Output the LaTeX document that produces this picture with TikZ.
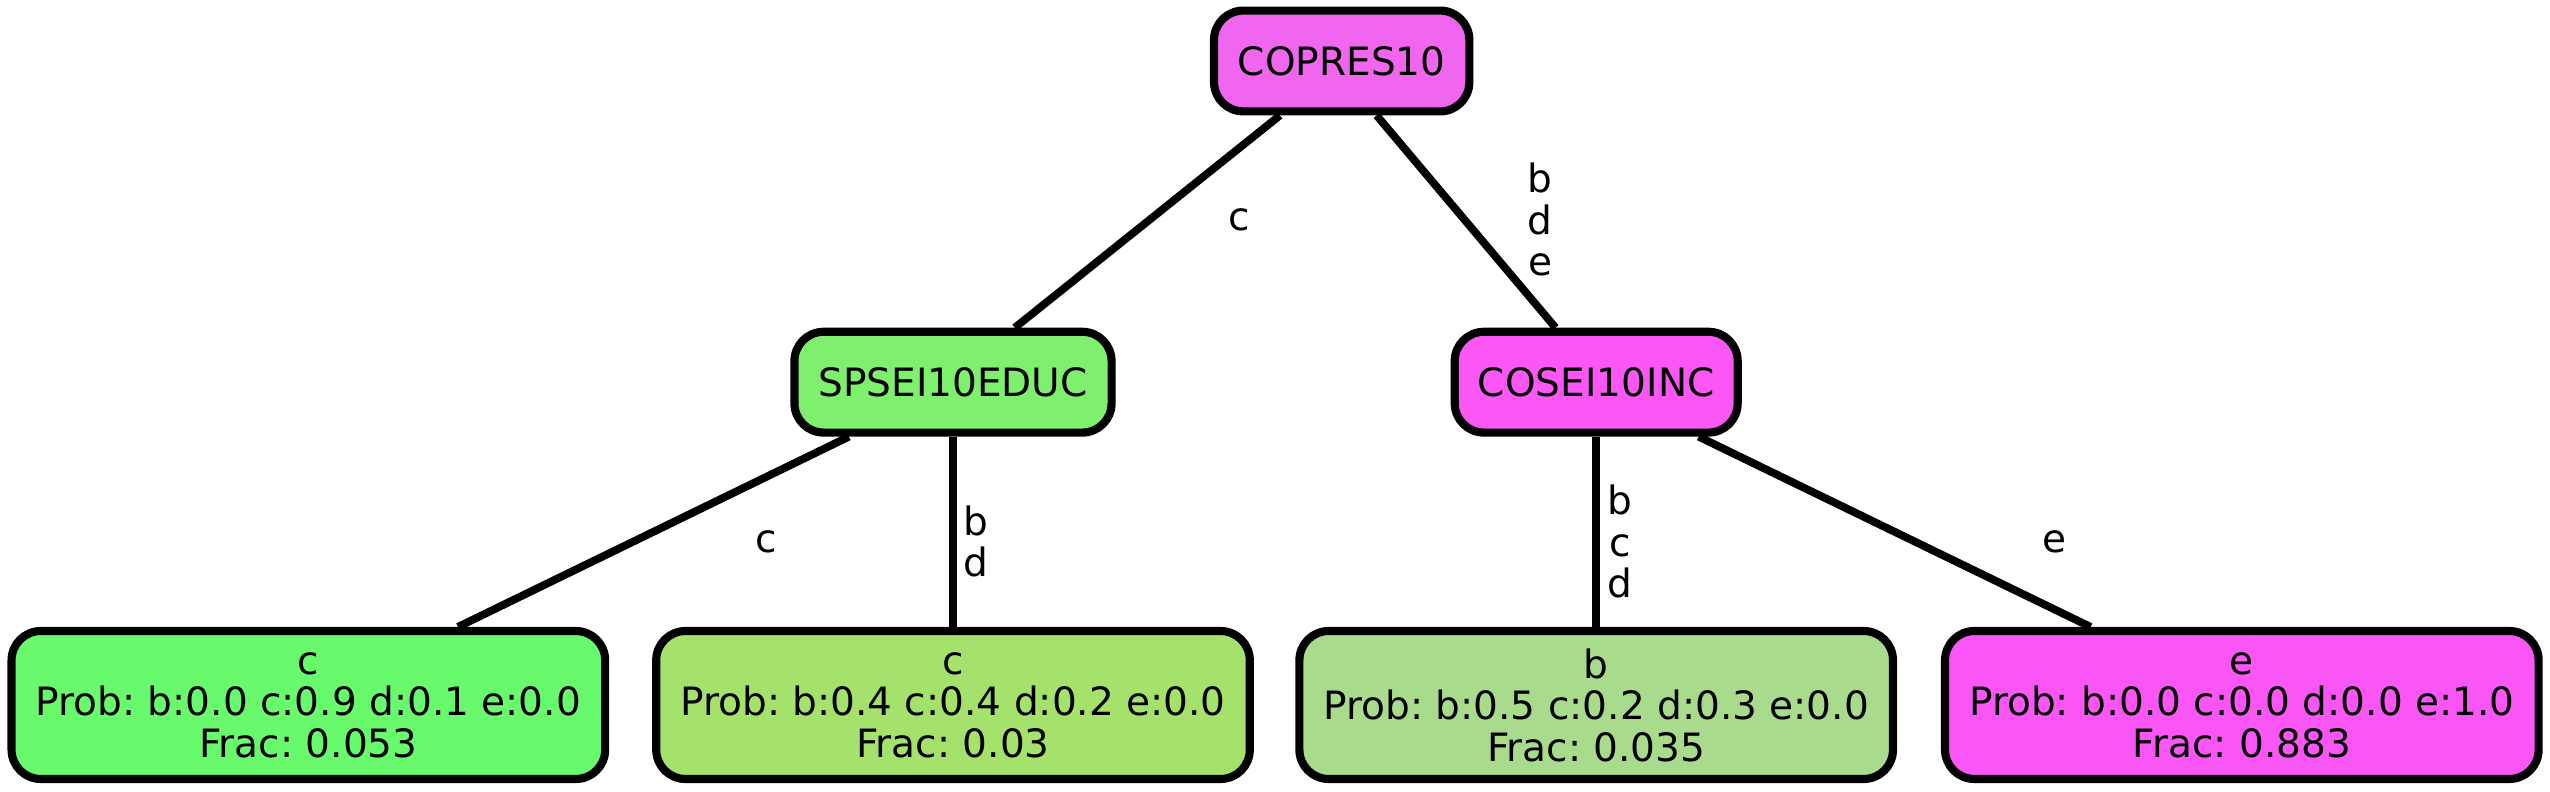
\documentclass[tikz,border=0pt]{standalone}
\usepackage{fontspec}
\setmainfont{DejaVu Sans}
\usetikzlibrary{backgrounds}
\frenchspacing
\definecolor{cRoot}{HTML}{F066EF}
\definecolor{cSp}{HTML}{7FF06E}
\definecolor{cCo}{HTML}{FA57F5}
\definecolor{cLa}{HTML}{68FA6C}
\definecolor{cLb}{HTML}{A4E26C}
\definecolor{cLc}{HTML}{A8DB8B}
\definecolor{cLd}{HTML}{FA55F5}
\begin{document}
\begin{tikzpicture}[x=1pt,y=-1pt,
  font=\fontsize{24}{25.5}\selectfont,
  treenode/.style={draw=black, line width=5pt, rounded corners=18pt, inner sep=0pt, align=center},
  inner/.style={treenode, minimum height=62pt},
  leaf/.style={treenode, minimum width=365pt, minimum height=91pt},
  edge/.style={draw=black, line width=4.8pt},
  elabel/.style={inner sep=0pt, align=center}]
\useasboundingbox (0,0) rectangle (1568,487);
\node[inner, fill=cRoot, minimum width=157pt] (root) at (825,37.5) {COPRES10};
\node[inner, fill=cSp, minimum width=195pt] (sp) at (586,235) {SPSEI10EDUC};
\node[inner, fill=cCo, minimum width=174pt] (co) at (981.5,235) {COSEI10INC};
\node[leaf, fill=cLa] (la) at (189.6,433.5) {c\\Prob: b:0.0 c:0.9 d:0.1 e:0.0\\Frac: 0.053};
\node[leaf, fill=cLb] (lb) at (586,433.5) {c\\Prob: b:0.4 c:0.4 d:0.2 e:0.0\\Frac: 0.03};
\node[leaf, fill=cLc] (lc) at (981.5,433.5) {b\\Prob: b:0.5 c:0.2 d:0.3 e:0.0\\Frac: 0.035};
\node[leaf, fill=cLd] (ld) at (1378.5,433.5) {e\\Prob: b:0.0 c:0.0 d:0.0 e:1.0\\Frac: 0.883};
\begin{scope}[on background layer]
\draw[edge] ([xshift=-38pt]root.south) -- ([xshift=38pt]sp.north);
\draw[edge] ([xshift=21.5pt]root.south) -- ([xshift=-25pt]co.north);
\draw[edge] ([xshift=-64pt]sp.south) -- ([xshift=92pt]la.north);
\draw[edge] (sp.south) -- (lb.north);
\draw[edge] (co.south) -- (lc.north);
\draw[edge] ([xshift=63pt]co.south) -- ([xshift=-93pt]ld.north);
\end{scope}
\node[elabel] (l1) at (762,135) {c};
\node[elabel] (l2) at (947,135) {b\\d\\e};
\node[elabel] (l3) at (471,333) {c};
\node[elabel] (l4) at (600,333) {b\\d};
\node[elabel] (l5) at (996,333) {b\\c\\d};
\node[elabel] (l6) at (1263,333) {e};
\end{tikzpicture}
\end{document}
